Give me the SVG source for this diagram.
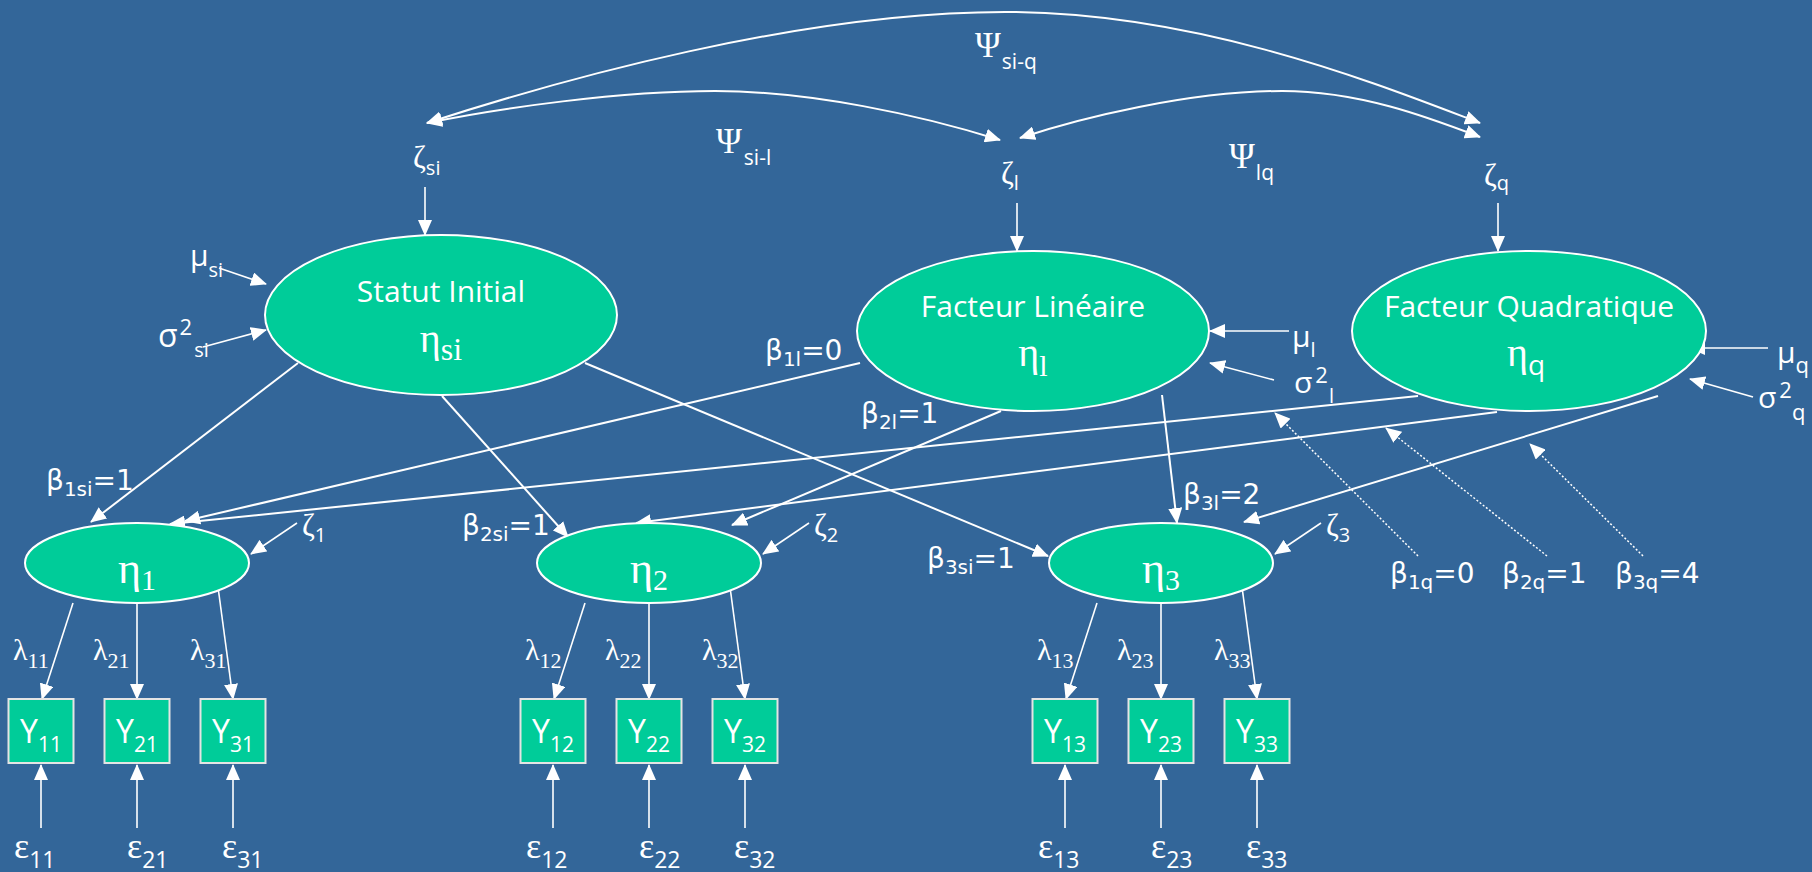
<svg xmlns="http://www.w3.org/2000/svg" width="1812" height="872" viewBox="0 0 1812 872">
<defs>
<marker id="arrow" markerUnits="userSpaceOnUse" markerWidth="16" markerHeight="14" viewBox="0 0 16 14" refX="15" refY="7" orient="auto-start-reverse"><path d="M0,0 L16,7 L0,14 Z" fill="#fff"/></marker>
<style>
.bg{fill:#336699}
.lat ellipse{fill:#00cc99;stroke:#fff;stroke-width:2}
.obs rect{fill:#00cc99;stroke:#e4e4e4;stroke-width:2}
text{fill:#fff;font-family:"Open Sans","DejaVu Sans",sans-serif}
.gr{font-family:"Liberation Serif","DejaVu Serif",serif}
.sans{font-family:"Open Sans","DejaVu Sans",sans-serif}
.title{font-size:30px}
.lbl text{font-family:"DejaVu Sans",sans-serif;font-size:28px}
#connectors path{fill:none;stroke:#fff;stroke-width:2;marker-end:url(#arrow)}
#connectors .thin{stroke-width:1.6}
#connectors .dot{stroke-width:1.5;stroke-dasharray:2 2}
#connectors .both{marker-start:url(#arrow)}
</style>
</defs>
<rect class="bg" x="0" y="0" width="1812" height="872"/>

<!-- connectors -->
<g id="connectors">
  <!-- covariances between growth-factor disturbances -->
  <path class="both" d="M427,123 C560,80 800,12 1005,12 C1200,12 1380,85 1480,123"/>
  <path class="both" d="M427,123 C500,108 620,91 715,91 C810,91 920,115 1000,140"/>
  <path class="both" d="M1020,138 C1080,118 1190,91 1282,91 C1360,91 1430,118 1480,137"/>
  <!-- disturbances into growth factors -->
  <path class="thin" d="M425,187 L425,235"/>
  <path class="thin" d="M1017,203 L1017,251"/>
  <path class="thin" d="M1498,203 L1498,251"/>
  <!-- means and variances -->
  <path class="thin" d="M219,268 L266,284"/>
  <path class="thin" d="M203,347 L266,330"/>
  <path class="thin" d="M1289,331 L1210,331"/>
  <path class="thin" d="M1274,380 L1210,363"/>
  <path class="thin" d="M1768,348 L1690,348"/>
  <path class="thin" d="M1753,397 L1690,379"/>
  <!-- growth-factor loadings -->
  <path d="M298,363 L91,522"/>
  <path d="M442,396 L568,537"/>
  <path d="M585,363 L1048,556"/>
  <path d="M860,363 L185,521"/>
  <path d="M1001,411 L732,525"/>
  <path d="M1162,395 L1177,523"/>
  <path d="M1418,396 L170,524"/>
  <path d="M1497,412 L636,523"/>
  <path d="M1658,396 L1244,522"/>
  <!-- pointers from quadratic weights -->
  <path class="dot" d="M1418,556 L1275,413"/>
  <path class="dot" d="M1547,556 L1386,428"/>
  <path class="dot" d="M1643,556 L1530,444"/>
  <!-- occasion disturbances -->
  <path class="thin" d="M297,523 L251,554"/>
  <path class="thin" d="M809,523 L763,554"/>
  <path class="thin" d="M1321,523 L1275,554"/>
  <!-- measurement loadings -->
  <path class="thin" d="M73,603 L42,699"/>
  <path class="thin" d="M137,604 L137,699"/>
  <path class="thin" d="M218,587 L233,699"/>
  <path class="thin" d="M585,603 L554,699"/>
  <path class="thin" d="M649,604 L649,699"/>
  <path class="thin" d="M730,587 L745,699"/>
  <path class="thin" d="M1097,603 L1066,699"/>
  <path class="thin" d="M1161,604 L1161,699"/>
  <path class="thin" d="M1242,587 L1257,699"/>
  <!-- measurement errors -->
  <path class="thin" d="M41,828 L41,765"/>
  <path class="thin" d="M137,828 L137,765"/>
  <path class="thin" d="M233,828 L233,765"/>
  <path class="thin" d="M553,828 L553,765"/>
  <path class="thin" d="M649,828 L649,765"/>
  <path class="thin" d="M745,828 L745,765"/>
  <path class="thin" d="M1065,828 L1065,765"/>
  <path class="thin" d="M1161,828 L1161,765"/>
  <path class="thin" d="M1257,828 L1257,765"/>
</g>

<!-- growth factors -->
<g id="eta-si" class="lat">
  <ellipse cx="441" cy="315" rx="176" ry="80"/>
  <text class="title" x="441" y="302" text-anchor="middle">Statut Initial</text>
  <text class="gr" x="441" y="352" text-anchor="middle" font-size="40">η<tspan font-size="32" dy="8">si</tspan></text>
</g>
<g id="eta-l" class="lat">
  <ellipse cx="1033" cy="331" rx="176" ry="80"/>
  <text class="title" x="1033" y="317" text-anchor="middle">Facteur Linéaire</text>
  <text class="gr" x="1033" y="366" text-anchor="middle" font-size="40">η<tspan font-size="30" dy="10">l</tspan></text>
</g>
<g id="eta-q" class="lat">
  <ellipse cx="1529" cy="331" rx="177" ry="80"/>
  <text class="title" x="1529" y="317" text-anchor="middle">Facteur Quadratique</text>
  <text class="gr" x="1526" y="366" text-anchor="middle" font-size="40">η<tspan class="sans" font-size="28" dy="9">q</tspan></text>
</g>

<!-- occasion factors -->
<g id="eta-1" class="lat">
  <ellipse cx="137" cy="563" rx="112" ry="40"/>
  <text class="gr" x="137" y="583" text-anchor="middle" font-size="44">η<tspan font-size="30" dy="7">1</tspan></text>
</g>
<g id="eta-2" class="lat">
  <ellipse cx="649" cy="563" rx="112" ry="40"/>
  <text class="gr" x="649" y="583" text-anchor="middle" font-size="44">η<tspan font-size="30" dy="7">2</tspan></text>
</g>
<g id="eta-3" class="lat">
  <ellipse cx="1161" cy="563" rx="112" ry="40"/>
  <text class="gr" x="1161" y="583" text-anchor="middle" font-size="44">η<tspan font-size="30" dy="7">3</tspan></text>
</g>

<!-- observed measures -->
<g id="y11" class="obs"><rect x="8.5" y="699" width="65" height="64"/><text x="41" y="743" text-anchor="middle" font-size="32">Y<tspan font-size="21" dy="9">11</tspan></text></g>
<g id="y21" class="obs"><rect x="104.5" y="699" width="65" height="64"/><text x="137" y="743" text-anchor="middle" font-size="32">Y<tspan font-size="21" dy="9">21</tspan></text></g>
<g id="y31" class="obs"><rect x="200.5" y="699" width="65" height="64"/><text x="233" y="743" text-anchor="middle" font-size="32">Y<tspan font-size="21" dy="9">31</tspan></text></g>
<g id="y12" class="obs"><rect x="520.5" y="699" width="65" height="64"/><text x="553" y="743" text-anchor="middle" font-size="32">Y<tspan font-size="21" dy="9">12</tspan></text></g>
<g id="y22" class="obs"><rect x="616.5" y="699" width="65" height="64"/><text x="649" y="743" text-anchor="middle" font-size="32">Y<tspan font-size="21" dy="9">22</tspan></text></g>
<g id="y32" class="obs"><rect x="712.5" y="699" width="65" height="64"/><text x="745" y="743" text-anchor="middle" font-size="32">Y<tspan font-size="21" dy="9">32</tspan></text></g>
<g id="y13" class="obs"><rect x="1032.5" y="699" width="65" height="64"/><text x="1065" y="743" text-anchor="middle" font-size="32">Y<tspan font-size="21" dy="9">13</tspan></text></g>
<g id="y23" class="obs"><rect x="1128.5" y="699" width="65" height="64"/><text x="1161" y="743" text-anchor="middle" font-size="32">Y<tspan font-size="21" dy="9">23</tspan></text></g>
<g id="y33" class="obs"><rect x="1224.5" y="699" width="65" height="64"/><text x="1257" y="743" text-anchor="middle" font-size="32">Y<tspan font-size="21" dy="9">33</tspan></text></g>

<!-- disturbance terms -->
<g id="zeta-si"><text class="gr" x="413" y="168" font-size="31">ζ<tspan class="sans" font-size="20" dy="7">si</tspan></text></g>
<g id="zeta-l"><text class="gr" x="1001" y="184" font-size="31">ζ<tspan class="sans" font-size="20" dy="6">l</tspan></text></g>
<g id="zeta-q"><text class="gr" x="1484" y="186" font-size="31">ζ<tspan class="sans" font-size="20" dy="4">q</tspan></text></g>
<g id="zeta-1"><text class="gr" x="302" y="536" font-size="31">ζ<tspan class="sans" font-size="20" dy="6">1</tspan></text></g>
<g id="zeta-2"><text class="gr" x="814" y="536" font-size="31">ζ<tspan class="sans" font-size="20" dy="6">2</tspan></text></g>
<g id="zeta-3"><text class="gr" x="1326" y="536" font-size="31">ζ<tspan class="sans" font-size="20" dy="6">3</tspan></text></g>

<!-- covariance labels -->
<g id="psi-labels">
  <text class="gr" x="975" y="57" font-size="35">Ψ<tspan class="sans" font-size="21" dx="1" dy="12">si-q</tspan></text>
  <text class="gr" x="716" y="153" font-size="35">Ψ<tspan class="sans" font-size="21" dx="2" dy="12">si-l</tspan></text>
  <text class="gr" x="1229" y="168" font-size="35">Ψ<tspan class="sans" font-size="21" dx="1" dy="12">lq</tspan></text>
</g>

<!-- means and variances -->
<g id="mean-var">
  <text x="190" y="266" font-size="30">μ<tspan font-size="20" dy="11">si</tspan></text>
  <text x="158" y="347" font-size="32">σ<tspan font-size="22" dx="2" dy="-12">2</tspan><tspan font-size="20" dx="2" dy="22">si</tspan></text>
  <text x="1292" y="347" font-size="30">μ<tspan font-size="20" dy="10">l</tspan></text>
  <text x="1294" y="393" font-size="30">σ<tspan font-size="22" dx="3" dy="-10">2</tspan><tspan font-size="20" dx="1" dy="20">l</tspan></text>
  <text x="1777" y="363" font-size="30">μ<tspan font-size="22" dy="10">q</tspan></text>
  <text x="1758" y="408" font-size="30">σ<tspan font-size="22" dx="3" dy="-10">2</tspan><tspan font-size="22" dy="22">q</tspan></text>
</g>

<!-- path weights -->
<g id="beta-labels" class="lbl">
  <text x="46" y="490">β<tspan font-size="20" dy="6">1si</tspan><tspan dy="-6">=1</tspan></text>
  <text x="462" y="535">β<tspan font-size="20" dy="6">2si</tspan><tspan dy="-6">=1</tspan></text>
  <text x="927" y="568">β<tspan font-size="20" dy="6">3si</tspan><tspan dy="-6">=1</tspan></text>
  <text x="765" y="360">β<tspan font-size="20" dy="6">1l</tspan><tspan dy="-6">=0</tspan></text>
  <text x="861" y="423">β<tspan font-size="20" dy="6">2l</tspan><tspan dy="-6">=1</tspan></text>
  <text x="1183" y="504">β<tspan font-size="20" dy="6">3l</tspan><tspan dy="-6">=2</tspan></text>
  <text x="1390" y="583">β<tspan font-size="20" dy="6">1q</tspan><tspan dy="-6">=0</tspan></text>
  <text x="1502" y="583">β<tspan font-size="20" dy="6">2q</tspan><tspan dy="-6">=1</tspan></text>
  <text x="1615" y="583">β<tspan font-size="20" dy="6">3q</tspan><tspan dy="-6">=4</tspan></text>
</g>

<!-- measurement loadings -->
<g id="lambda-labels" font-size="30">
  <text class="gr" x="13" y="660">λ<tspan font-size="22" dy="8">11</tspan></text>
  <text class="gr" x="93" y="660">λ<tspan font-size="22" dy="8">21</tspan></text>
  <text class="gr" x="190" y="660">λ<tspan font-size="22" dy="8">31</tspan></text>
  <text class="gr" x="525" y="660">λ<tspan font-size="22" dy="8">12</tspan></text>
  <text class="gr" x="605" y="660">λ<tspan font-size="22" dy="8">22</tspan></text>
  <text class="gr" x="702" y="660">λ<tspan font-size="22" dy="8">32</tspan></text>
  <text class="gr" x="1037" y="660">λ<tspan font-size="22" dy="8">13</tspan></text>
  <text class="gr" x="1117" y="660">λ<tspan font-size="22" dy="8">23</tspan></text>
  <text class="gr" x="1214" y="660">λ<tspan font-size="22" dy="8">33</tspan></text>
</g>

<!-- measurement errors -->
<g id="epsilon-labels" font-size="36">
  <text class="gr" x="14" y="858">ε<tspan class="sans" font-size="23" dy="10">11</tspan></text>
  <text class="gr" x="127" y="858">ε<tspan class="sans" font-size="23" dy="10">21</tspan></text>
  <text class="gr" x="222" y="858">ε<tspan class="sans" font-size="23" dy="10">31</tspan></text>
  <text class="gr" x="526" y="858">ε<tspan class="sans" font-size="23" dy="10">12</tspan></text>
  <text class="gr" x="639" y="858">ε<tspan class="sans" font-size="23" dy="10">22</tspan></text>
  <text class="gr" x="734" y="858">ε<tspan class="sans" font-size="23" dy="10">32</tspan></text>
  <text class="gr" x="1038" y="858">ε<tspan class="sans" font-size="23" dy="10">13</tspan></text>
  <text class="gr" x="1151" y="858">ε<tspan class="sans" font-size="23" dy="10">23</tspan></text>
  <text class="gr" x="1246" y="858">ε<tspan class="sans" font-size="23" dy="10">33</tspan></text>
</g>
</svg>
